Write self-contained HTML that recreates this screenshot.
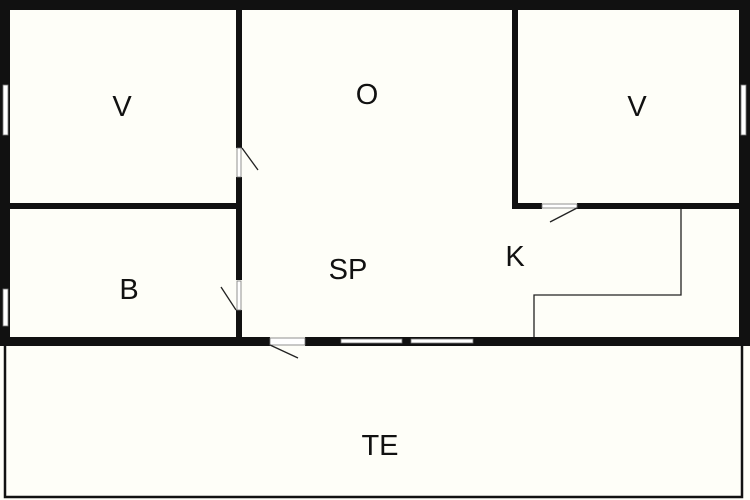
<!DOCTYPE html>
<html><head><style>
html,body{margin:0;padding:0;background:#fff;}
svg{display:block}
text{font-family:"Liberation Sans",sans-serif;font-size:29px;fill:#111;text-anchor:middle;dominant-baseline:central}
</style></head><body>
<svg width="750" height="500" viewBox="0 0 750 500">
<rect width="750" height="500" fill="#fefef8"/>
<!-- terrace -->
<rect x="5" y="340" width="737" height="157" fill="none" stroke="#111" stroke-width="2.5"/>
<g fill="#111">
<!-- outer walls -->
<rect x="0" y="0" width="750" height="10"/>
<rect x="0" y="0" width="10" height="346"/>
<rect x="739" y="0" width="11" height="346"/>
<rect x="0" y="337" width="270" height="9"/>
<rect x="305" y="337" width="445" height="9"/>
<!-- interior walls -->
<rect x="236" y="0" width="6" height="148"/>
<rect x="236" y="177" width="6" height="103"/>
<rect x="236" y="310" width="6" height="30"/>
<rect x="0" y="203" width="240" height="6"/>
<rect x="512" y="0" width="6" height="209"/>
<rect x="512" y="203" width="30" height="6"/>
<rect x="577" y="203" width="165" height="6"/>
</g>
<!-- windows -->
<g fill="#fff" stroke="#777" stroke-width="0.8">
<rect x="3" y="85" width="5" height="50"/>
<rect x="3" y="289" width="5" height="37"/>
<rect x="741" y="85" width="5" height="50"/>
<rect x="341" y="339" width="61" height="4"/>
<rect x="411" y="339" width="62" height="4"/>
<rect x="237" y="148" width="4" height="29"/>
<rect x="237" y="281" width="4" height="29"/>
<rect x="542" y="204" width="35" height="4"/>
<rect x="270" y="338" width="35" height="7"/>
</g>
<!-- door swings & counter -->
<g stroke="#222" stroke-width="1.3" fill="none">
<line x1="242" y1="148" x2="258" y2="170"/>
<line x1="236" y1="310" x2="221" y2="287"/>
<line x1="270" y1="345" x2="298" y2="358"/>
<line x1="577" y1="208" x2="550" y2="222"/>
<polyline points="681,209 681,295 534,295 534,337"/>
</g>
<text x="122" y="107">V</text>
<text x="367" y="95">O</text>
<text x="637" y="107">V</text>
<text x="129" y="290">B</text>
<text x="348" y="270">SP</text>
<text x="515" y="257">K</text>
<text x="380" y="446">TE</text>
</svg>
</body></html>
